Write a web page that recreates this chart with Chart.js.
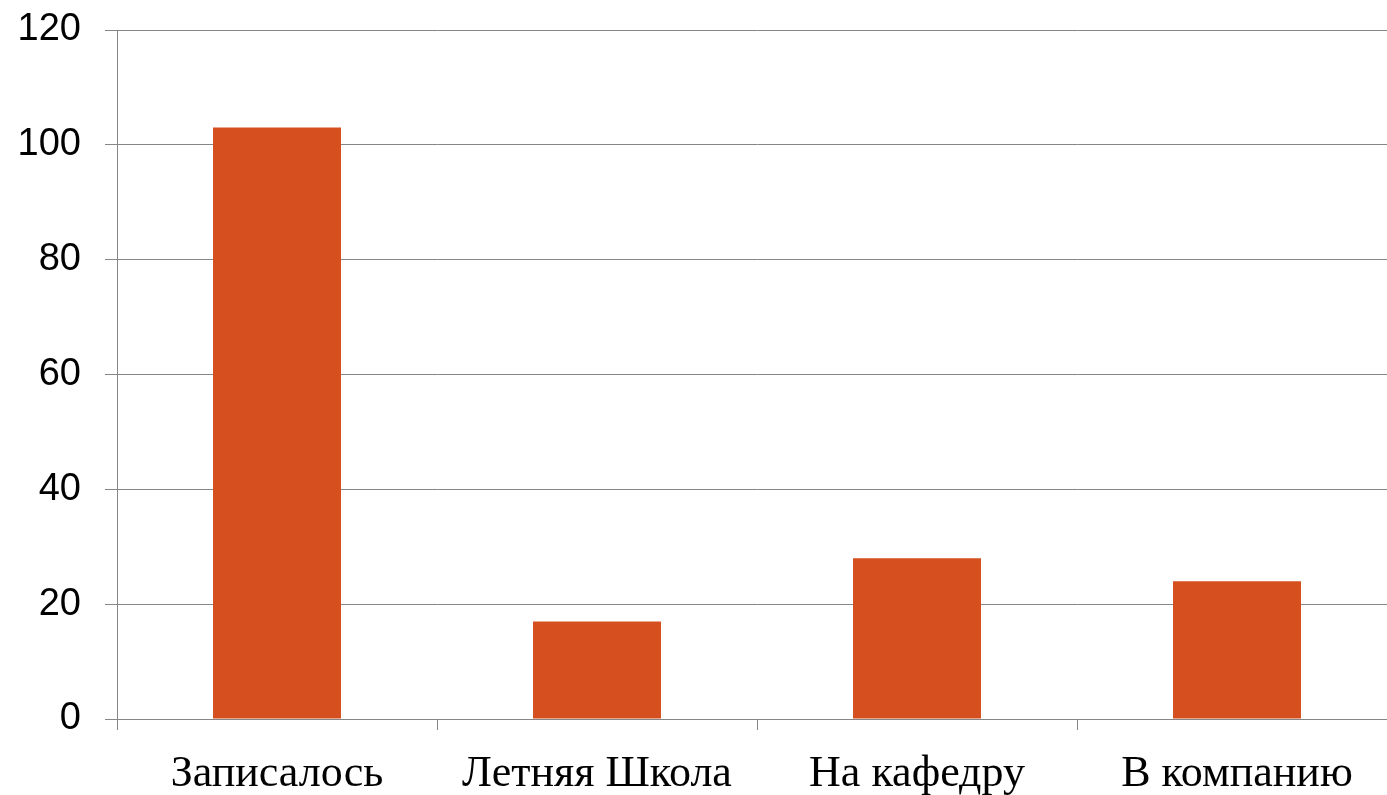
<!DOCTYPE html>
<html>
<head>
<meta charset="utf-8">
<script src="https://cdn.jsdelivr.net/npm/chart.js@4"></script>
<style>
  html, body { margin: 0; padding: 0; background: #fff; overflow: hidden; }
</style>
</head>
<body>
<canvas id="mycanvas" width="1400" height="795"></canvas>
<script>
var categories = ['Записалось', 'Летняя Школа', 'На кафедру', 'В компанию'];
var values = [103, 17, 28, 24];
var yTicks = [0, 20, 40, 60, 80, 100, 120];

var gridGray = '#868686';

var ctx = document.getElementById('mycanvas');

var barGraph = new Chart(ctx, {
	type: 'bar',
	data: {
		labels: categories,
		datasets: [
			{
				label: 'Количество',
				backgroundColor: '#d5501e',
				borderWidth: 0,
				data: values,
				barPercentage: 0.4,
				categoryPercentage: 1.0
			}
		]
	},
	options: {
		responsive: false,
		animation: false,
		layout: { padding: { top: 30, right: 3, left: 0, bottom: 0 } },
		plugins: {
			legend: { display: false },
			tooltip: { enabled: false }
		},
		scales: {
			x: {
				grid: {
					display: true,
					offset: true,
					drawOnChartArea: false,
					drawTicks: true,
					tickLength: 11,
					color: gridGray,
					lineWidth: 1
				},
				border: { display: false },
				ticks: {
					color: '#000',
					padding: 18,
					maxRotation: 0,
					font: { family: '"Liberation Serif", serif', size: 44 }
				},
				afterFit: function(scale) { scale.height = 76; }
			},
			y: {
				min: 0,
				max: 120,
				afterBuildTicks: function(scale) {
					scale.ticks = yTicks.map(function(v) { return { value: v }; });
				},
				grid: {
					color: gridGray,
					lineWidth: 1,
					drawTicks: true,
					tickLength: 12
				},
				border: { display: true, color: gridGray, width: 1 },
				ticks: {
					color: '#000',
					padding: 24,
					font: { family: '"Liberation Sans", Arial, sans-serif', size: 38 }
				},
				afterFit: function(scale) {
					scale.width = 117;
					scale.paddingTop = 0;
					scale.paddingBottom = 0;
				}
			}
		}
	}
});
</script>
</body>
</html>
